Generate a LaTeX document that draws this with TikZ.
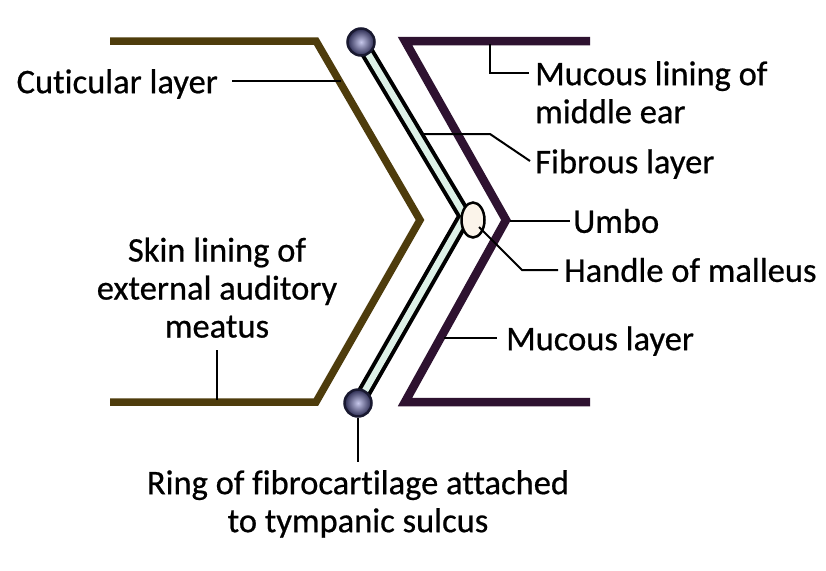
\documentclass[tikz,border=0pt]{standalone}
\usepackage{fontspec}
\setmainfont[FakeBold=0.6,Ligatures=NoCommon]{Carlito}
\usetikzlibrary{positioning,shapes.geometric}
\definecolor{skinbrown}{HTML}{4E3C0C}
\definecolor{mucpurple}{HTML}{2E1230}
\definecolor{fibmint}{HTML}{DDF1E7}
\definecolor{ringlight}{HTML}{C6C7EA}
\definecolor{ringdark}{HTML}{2A2A50}
\definecolor{malcream}{HTML}{FBF4EA}
\tikzset{
  every node/.style={
    font=\fontsize{34.5}{38}\selectfont,
    inner sep=0pt
  },
  layer label/.style={
    align=center
  },
  leader/.style={
    draw=black,
    line width=2pt
  },
  skin layer/.style={
    draw=skinbrown,
    line width=7.5pt,
    line join=miter
  },
  mucous layer/.style={
    draw=mucpurple,
    line width=8.5pt,
    line join=miter
  },
  fibrous band/.style={
    draw=black,
    line width=4pt,
    double=fibmint,
    double distance=6.5pt,
    line join=miter
  },
  ring ball/.style={
    shape=circle,
    minimum size=27pt,
    draw=ringdark!60!black,
    line width=2.5pt,
    inner color=ringlight,
    outer color=ringdark
  },
  malleus/.style={
    shape=ellipse,
    minimum width=23pt,
    minimum height=35pt,
    draw=black,
    line width=2.5pt,
    fill=malcream
  }
}
\begin{document}
\begin{tikzpicture}[x=1pt,y=-1pt]
\useasboundingbox[fill=white] (0,0) rectangle (826,570);

\draw[skin layer] (110,41) -- (316,41) -- (420,220) -- (316,402) -- (110,402);
\draw[mucous layer] (590,41) -- (405,41) -- (506,220) -- (405,402) -- (590,402);
\draw[fibrous band] (361,42) -- (465,216) -- (358,403);
\node[malleus] (handle) at (473,220) {};
\node[ring ball] (ringtop) at (361,42) {};
\node[ring ball] (ringbot) at (358,403) {};

% leader ends
\coordinate (cutpt) at (341,81);
\coordinate (cutend) at (232,81);
\coordinate (skinpt) at (217,400);
\coordinate (skinend) at (217,350);
\coordinate (mlpt) at (490,44);
\coordinate (mlend) at (529,73);
\coordinate (fibpt) at (423,134);
\coordinate (fibend) at (530,161);
\coordinate (umbpt) at (510,221);
\coordinate (umbend) at (570,221);
\coordinate (handend) at (558,270);
\coordinate (mucpt) at (444,338);
\coordinate (mucend) at (497,338);
\coordinate (ringend) at (358,462);

\node[left=14pt of cutend, yshift=-3pt] (cutlbl) {Cuticular layer};
\node[layer label, above=12pt of skinend] (skinlbl) {Skin lining of\\external auditory\\meatus};
\node[layer label, anchor=north west, align=left] (mllbl) at ([xshift=6pt,yshift=12pt]mlend) {Mucous lining of\\middle ear};
\node[right=5pt of fibend, yshift=-3pt] (fiblbl) {Fibrous layer};
\node[right=3pt of umbend] (umblbl) {Umbo};
\node[right=6pt of handend] (handlbl) {Handle of malleus};
\node[right=9pt of mucend, yshift=-3pt] (muclbl) {Mucous layer};
\node[layer label, below=8pt of ringend] (ringlbl) {Ring of fibrocartilage attached\\to tympanic sulcus};

\draw[leader] (cutend) -- (cutpt);
\draw[leader] (skinend) -- (skinpt);
\draw[leader] (mlpt) |- (mlend);
\draw[leader] (fibpt) -- (490,134) -- (fibend);
\draw[leader] (umbpt) -- (umbend);
\draw[leader] (handle.center) ++(6,7) -- (522,270) -- (handend);
\draw[leader] (mucpt) -- (mucend);
\draw[leader] (ringbot.south) -- (ringend);

\end{tikzpicture}
\end{document}
